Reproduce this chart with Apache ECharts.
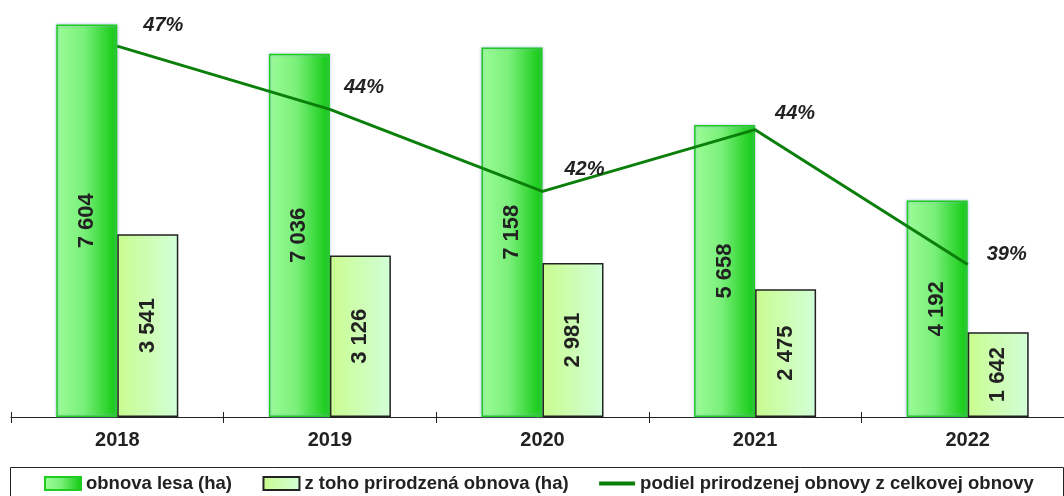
<!DOCTYPE html>
<html><head><meta charset="utf-8">
<script src="https://cdn.jsdelivr.net/npm/echarts@6/dist/echarts.min.js"></script>
<style>html,body{margin:0;padding:0;background:#fff}#c{width:1064px;height:496px}</style>
</head><body><div id="c"></div>
<script>
const years = ['2018','2019','2020','2021','2022'];
const obnovaLesa = [7604, 7036, 7158, 5658, 4192];
const prirodzena = [3541, 3126, 2981, 2475, 1642];
const podiel = [46.57, 44.43, 41.65, 43.74, 39.17];
const podielLabelOffsets = [[46,-11],[34,-12],[42,-12],[40,-6.5],[39,0.5]];

const F = '"Liberation Sans", Arial, sans-serif';
const fmt = v => String(v).replace(/\B(?=(\d{3})+(?!\d))/g, ' ');

const chart = echarts.init(document.getElementById('c'));
chart.setOption({
  animation: false,
  grid: {left: 11, top: 4, width: 1063, height: 413, containLabel: false, outerBoundsMode: 'none'},
  xAxis: [
    {type: 'category', data: years,
      axisLine: {lineStyle: {color: '#222', width: 1}},
      axisTick: {show: true, length: 6, lineStyle: {color: '#222'}},
      axisLabel: {fontFamily: F, fontWeight: 'bold', fontSize: 20, color: '#222', margin: 13}},
    {type: 'category', data: years, position: 'bottom',
      axisLine: {show: false},
      axisTick: {show: true, inside: true, length: 5, lineStyle: {color: '#222'}},
      axisLabel: {show: false}}
  ],
  yAxis: [
    {type: 'value', min: 0, max: 8000, show: false},
    {type: 'value', min: 34, max: 48, show: false}
  ],
  legend: {left: 44, top: 474, padding: 0, itemWidth: 36, itemHeight: 13, itemGap: 30.5,
    textStyle: {fontFamily: F, fontWeight: 'bold', fontSize: 18.5, color: '#222'},
    data: [
      {name: 'obnova lesa (ha)', icon: 'rect'},
      {name: 'z toho prirodzená obnova (ha)', icon: 'rect'},
      {name: 'podiel prirodzenej obnovy z celkovej obnovy', icon: 'path://M0,0 H36 V4 H0 Z'}
    ]},
  graphic: [{type: 'rect', shape: {x: 10.5, y: 467.5, width: 1053, height: 40}, style: {fill: 'none', stroke: '#222', lineWidth: 1}, silent: true}],
  series: [
    {name: 'obnova lesa (ha)', type: 'bar', data: obnovaLesa, barWidth: 61, barGap: '0%',
      itemStyle: {color: new echarts.graphic.LinearGradient(0,0,1,0,[{offset:0,color:'#9dfc98'},{offset:0.45,color:'#7af07a'},{offset:1,color:'#0fc80f'}]),
        borderColor: '#1fcc1f', borderWidth: 1.5, shadowColor: 'rgba(150,175,225,0.8)', shadowBlur: 3},
      label: {show: true, position: 'inside', rotate: 90, formatter: p => fmt(p.value),
        fontFamily: F, fontWeight: 'bold', fontSize: 22, color: '#222'}},
    {name: 'z toho prirodzená obnova (ha)', type: 'bar', data: prirodzena, barWidth: 61,
      itemStyle: {color: new echarts.graphic.LinearGradient(0,0,1,0,[{offset:0,color:'#c9fc8f'},{offset:1,color:'#d2ffd8'}]),
        borderColor: '#222', borderWidth: 1.5},
      label: {show: true, position: 'inside', rotate: 90, formatter: p => fmt(p.value),
        fontFamily: F, fontWeight: 'bold', fontSize: 22, color: '#222'}},
    {name: 'podiel prirodzenej obnovy z celkovej obnovy', type: 'line', yAxisIndex: 1,
      data: podiel.map((v,i) => ({value: v, label: {offset: podielLabelOffsets[i]}})),
      symbol: 'circle', symbolSize: 0.1, showSymbol: true,
      lineStyle: {color: '#0a7f0a', width: 3}, itemStyle: {color: '#0a7f0a'},
      label: {show: true, position: 'top', distance: 0, formatter: p => Math.round(p.value) + '%',
        fontFamily: F, fontWeight: 'bold', fontStyle: 'italic', fontSize: 20, color: '#222'},
      z: 5}
  ]
});
</script></body></html>
